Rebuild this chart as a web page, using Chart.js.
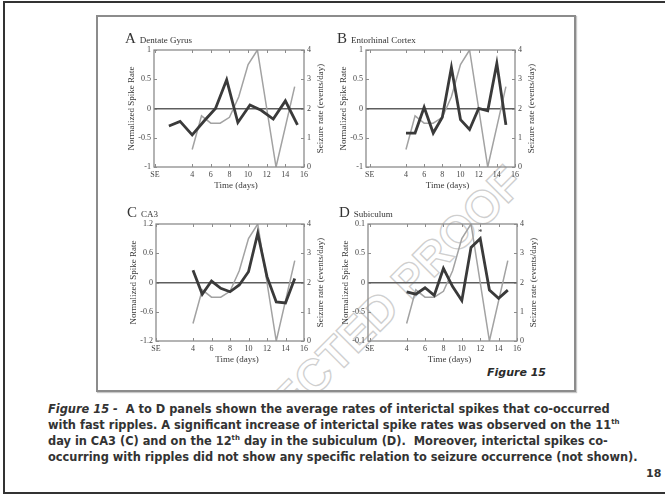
<!DOCTYPE html>
<html>
<head>
<meta charset="utf-8">
<script src="https://cdn.jsdelivr.net/npm/chart.js@4/dist/chart.umd.min.js"></script>
<style>
  html, body { margin:0; padding:0; background:#fff; width:665px; height:496px; overflow:hidden; position:relative; }
  .page { position:absolute; left:3px; top:1px; width:700px; height:489px;
          border-top:2px solid #333; border-left:2px solid #333; border-bottom:2px solid #333; }
  .frame { position:absolute; left:96px; top:15px; width:476px; height:373px;
           border:2px solid #8c8c8c; box-shadow:1px 1px 1px #c8c8c8; overflow:hidden; }
  .wm { position:absolute; left:228px; top:346px; white-space:nowrap;
        transform:translate(-50%,-50%) rotate(-45deg);
        font:bold 46px "Liberation Sans", sans-serif; color:transparent;
        -webkit-text-stroke:1.3px #cfcfcf; }
  canvas { position:absolute; }
  .fig { position:absolute; left:487px; top:366px; font:italic bold 11px "DejaVu Sans", sans-serif; color:#2a2a2a; }
  .cap { position:absolute; left:48px; top:401px; font:bold 11.4px "DejaVu Sans", sans-serif;
         line-height:16px; color:#333; white-space:pre; }
  .cap sup { font-size:7px; vertical-align:5px; line-height:0; }
  .pg { position:absolute; left:646px; top:467px; font:bold 11px "DejaVu Sans", sans-serif; color:#333; }
</style>
</head>
<body>
<div class="page"></div>
<div class="frame"><div class="wm">UNCORRECTED PROOF</div></div>
<div class="fig">Figure 15</div>
<div class="cap"><i>Figure 15 -</i>  A to D panels shown the average rates of interictal spikes that co-occurred
with fast ripples. A significant increase of interictal spike rates was observed on the 11<sup>th</sup>
day in CA3 (C) and on the 12<sup>th</sup> day in the subiculum (D).  Moreover, interictal spikes co-
occurring with ripples did not show any specific relation to seizure occurrence (not shown).</div>
<div class="pg">18</div>

<script>
// Time axis: SE (status epilepticus) followed by days after SE
const xTickValues = [0, 4, 6, 8, 10, 12, 14, 16];
const xTickLabels = ['SE', '4', '6', '8', '10', '12', '14', '16'];

// Seizure rate (events/day), right axis, shared by all four panels
const seizureDays = [4, 5, 6, 7, 8, 9, 10, 11, 13, 15];
const seizureRate = [0.6, 1.75, 1.5, 1.5, 1.7, 2.4, 3.5, 4.0, 0.0, 2.75];
const rightTickValues = [0, 1, 2, 3, 4];

// Normalized spike rate, left axis
const spikeDaysA = [1.5, 2.7, 4.0, 5.3, 6.5, 7.7, 8.9, 10.2, 11.4, 12.7, 14.0, 15.3];
const spikeRateA = [-0.30, -0.22, -0.45, -0.21, 0.0, 0.49, -0.24, 0.06, -0.03, -0.18, 0.13, -0.28];

const spikeDaysB = [4, 5, 6, 7, 8, 9, 10, 11, 12, 13, 14, 15];
const spikeRateB = [-0.42, -0.42, 0.02, -0.42, -0.15, 0.70, -0.19, -0.36, 0.0, -0.04, 0.77, -0.28];

const spikeDaysC = [4, 5, 6, 7, 8, 9, 10, 11, 12, 13, 14, 15];
const spikeRateC = [0.25, -0.24, 0.03, -0.12, -0.19, -0.05, 0.22, 1.01, 0.12, -0.40, -0.42, 0.08];

const spikeDaysD = [4, 5, 6, 7, 8, 9, 10, 11, 12, 13, 14, 15];
const spikeRateD = [-0.16, -0.20, -0.09, -0.22, 0.24, -0.07, -0.31, 0.60, 0.75, -0.13, -0.27, -0.13];

const leftTickValues  = [-1, -0.5, 0, 0.5, 1];
const leftTickLabels  = ['-1', '-0.5', '0', '0.5', '1'];
const leftTickValuesC = [-1.2, -0.6, 0, 0.6, 1.2];
const leftTickLabelsC = ['-1.2', '-0.6', '0', '0.6', '1.2'];
const leftTickLabelsD = ['-0.1', '-0.5', '0', '0.5', '0.1'];

const SERIF = '"Liberation Serif", "Times New Roman", serif';
const AXIS_GREY = '#8c8c8c';
const LW = 44, RW = 36, TP = 24, BH = 32;

// Panel frame, inward tick marks, titles and markers
const panelDecor = {
  id: 'panelDecor',
  afterDraw(chart, args, o) {
    const { ctx, chartArea: a, scales } = chart;
    const x = scales.x, y = scales.y, y2 = scales.y2;
    ctx.save();
    ctx.strokeStyle = AXIS_GREY;
    ctx.lineWidth = 1;
    ctx.beginPath();
    x.ticks.forEach(t => {
      const p = Math.round(x.getPixelForValue(t.value)) + 0.5;
      ctx.moveTo(p, a.bottom); ctx.lineTo(p, a.bottom - 3);
      ctx.moveTo(p, a.top); ctx.lineTo(p, a.top + 3);
    });
    y.ticks.forEach(t => {
      const p = Math.round(y.getPixelForValue(t.value)) + 0.5;
      ctx.moveTo(a.left, p); ctx.lineTo(a.left + 3, p);
    });
    y2.ticks.forEach(t => {
      const p = Math.round(y2.getPixelForValue(t.value)) + 0.5;
      ctx.moveTo(a.right, p); ctx.lineTo(a.right - 3, p);
    });
    ctx.stroke();
    ctx.lineWidth = 1.3;
    ctx.strokeRect(a.left, a.top, a.width, a.height);

    ctx.fillStyle = '#3a3a3a';
    ctx.textAlign = 'center';
    ctx.textBaseline = 'middle';
    ctx.font = '9px ' + SERIF;
    // x title
    ctx.fillText('Time (days)', (a.left + a.right) / 2 + 7, a.bottom + 19);
    // left title
    ctx.save();
    ctx.translate(a.left - 22, (a.top + a.bottom) / 2);
    ctx.rotate(-Math.PI / 2);
    ctx.fillText('Normalized Spike Rate', 0, 0);
    ctx.restore();
    // right title
    ctx.save();
    ctx.translate(a.right + 17, (a.top + a.bottom) / 2);
    ctx.rotate(-Math.PI / 2);
    ctx.fillText('Seizure rate (events/day)', 0, 0);
    ctx.restore();

    // panel heading
    ctx.textAlign = 'left';
    ctx.textBaseline = 'alphabetic';
    ctx.fillStyle = '#333';
    ctx.font = '15px ' + SERIF;
    const lx = a.left - 29, by = a.top - 7;
    ctx.fillText(o.letter, lx, by);
    const w = ctx.measureText(o.letter).width;
    ctx.font = '9px ' + SERIF;
    ctx.fillText(o.name, lx + w + 4, by);

    // significance marker
    if (o.star) {
      ctx.textAlign = 'center';
      ctx.textBaseline = 'middle';
      ctx.font = '9px ' + SERIF;
      ctx.fillText('*', x.getPixelForValue(o.star[0]), y.getPixelForValue(o.star[1]) - 6);
    }
    ctx.restore();
  }
};

const panels = [
  { letter: 'A', name: 'Dentate Gyrus', days: spikeDaysA, rate: spikeRateA,
    yt: leftTickValues, yl: leftTickLabels, xMin: -0.1, area: [154, 50, 150, 117] },
  { letter: 'B', name: 'Entorhinal Cortex', days: spikeDaysB, rate: spikeRateB,
    yt: leftTickValues, yl: leftTickLabels, xMin: -0.4, area: [366, 50, 149, 117] },
  { letter: 'C', name: 'CA3', days: spikeDaysC, rate: spikeRateC,
    yt: leftTickValuesC, yl: leftTickLabelsC, xMin: 0, area: [156, 224, 148, 117] },
  { letter: 'D', name: 'Subiculum', days: spikeDaysD, rate: spikeRateD,
    yt: leftTickValues, yl: leftTickLabelsD, xMin: -0.2, area: [368, 224, 149, 117], star: [12, 0.75] }
];

const tickFont = { family: SERIF, size: 8 };

panels.forEach(p => {
  const [L, T, W, H] = p.area;
  const cv = document.createElement('canvas');
  cv.width = LW + W + RW;
  cv.height = TP + H + BH;
  cv.style.left = (L - LW) + 'px';
  cv.style.top = (T - TP) + 'px';
  document.body.appendChild(cv);

  new Chart(cv, {
    type: 'line',
    data: {
      datasets: [
        { data: p.days.map((d, i) => ({ x: d, y: p.rate[i] })), yAxisID: 'y',
          borderColor: '#3a3a3a', borderWidth: 2.8, pointRadius: 0, tension: 0 },
        { data: seizureDays.map((d, i) => ({ x: d, y: seizureRate[i] })), yAxisID: 'y2',
          borderColor: '#a2a2a2', borderWidth: 1.5, pointRadius: 0, tension: 0 }
      ]
    },
    options: {
      responsive: false,
      animation: false,
      layout: { padding: { top: TP, left: 0, right: 0, bottom: 0 } },
      plugins: { legend: { display: false }, tooltip: { enabled: false },
                 panelDecor: { letter: p.letter, name: p.name, star: p.star } },
      scales: {
        x: {
          type: 'linear', min: p.xMin, max: 16,
          afterBuildTicks: s => { s.ticks = xTickValues.map(v => ({ value: v })); },
          afterFit: s => { s.height = BH; },
          grid: { display: false, drawTicks: false },
          border: { display: false },
          ticks: { padding: 3, color: '#444', font: tickFont, maxRotation: 0, autoSkip: false,
                   callback: (v, i) => xTickLabels[i] }
        },
        y: {
          position: 'left', min: p.yt[0], max: p.yt[p.yt.length - 1],
          afterBuildTicks: s => { s.ticks = p.yt.map(v => ({ value: v })); },
          afterFit: s => { s.width = LW; },
          grid: { drawTicks: false, lineWidth: 1.5,
                  color: c => (c.tick && c.tick.value === 0) ? '#5e5e5e' : 'rgba(0,0,0,0)' },
          border: { display: false },
          ticks: { padding: 3, color: '#444', font: tickFont, callback: (v, i) => p.yl[i] }
        },
        y2: {
          position: 'right', min: 0, max: 4,
          afterBuildTicks: s => { s.ticks = rightTickValues.map(v => ({ value: v })); },
          afterFit: s => { s.width = RW; },
          grid: { display: false, drawTicks: false },
          border: { display: false },
          ticks: { padding: 3, color: '#444', font: tickFont, callback: v => String(v) }
        }
      }
    },
    plugins: [panelDecor]
  });
});
</script>
</body>
</html>
